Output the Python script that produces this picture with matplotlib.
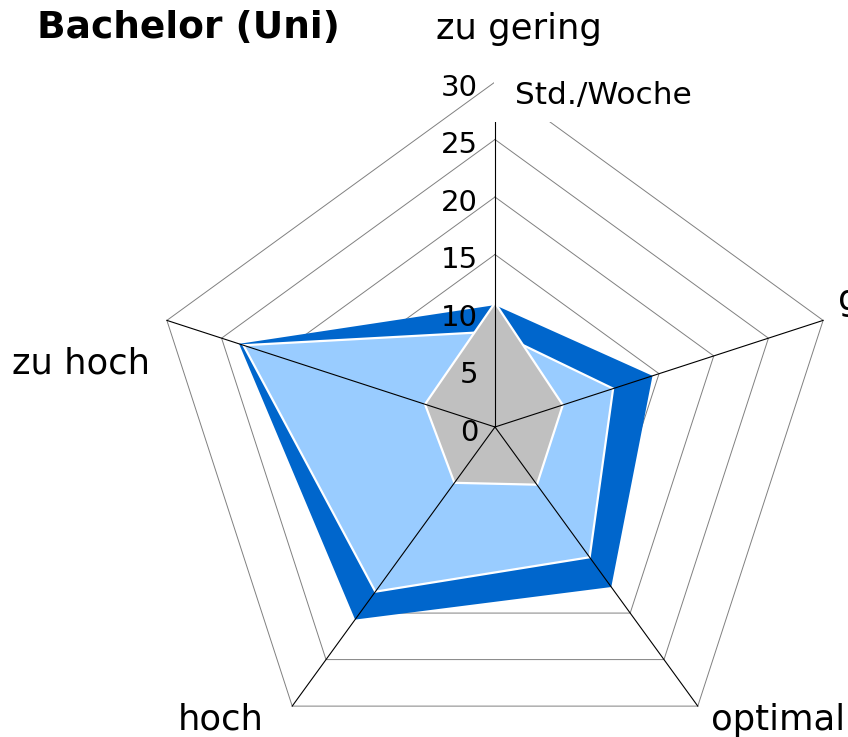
import numpy as np
import matplotlib.pyplot as plt
from matplotlib.patches import Polygon, Rectangle

# Achsen (im Uhrzeigersinn, oben beginnend)
categories = ["zu gering", "gering", "optimal", "hoch", "zu hoch"]
ticks = [0, 5, 10, 15, 20, 25, 30]

# Std./Woche je Kategorie
series_dark = [10.6, 14.4, 17.2, 20.7, 23.4]
series_light = [8.3, 10.8, 14.0, 17.7, 23.0]
series_gray = [10.8, 6.2, 6.2, 6.0, 6.4]

colors = ["#0066CC", "#99CCFF", "#C0C0C0"]

W, H = 848, 737
cx, cy, scale = 495, 427, 11.5   # Mittelpunkt in Pixeln, Pixel pro Einheit


def px(x, y):
    # Pixelkoordinaten (oben links) -> Datenkoordinaten
    return (x - cx) / scale, (cy - y) / scale


n = len(categories)
angles = np.deg2rad(90 - 72 * np.arange(n))


def xy(vals):
    vals = np.asarray(vals, dtype=float)
    return np.column_stack([vals * np.cos(angles), vals * np.sin(angles)])


fig = plt.figure(figsize=(W / 100, H / 100), dpi=100)
ax = fig.add_axes([0, 0, 1, 1])
ax.set_xlim(-cx / scale, (W - cx) / scale)
ax.set_ylim(-(H - cy) / scale, cy / scale)
ax.axis("off")

# Gitter
for t in ticks[1:]:
    pts = xy([t] * n)
    pts = np.vstack([pts, pts[:1]])
    ax.plot(pts[:, 0], pts[:, 1], color="#808080", lw=0.7, zorder=1)

# Flächen
ax.add_patch(Polygon(xy(series_dark), closed=True, facecolor=colors[0],
                     edgecolor="none", zorder=2))
ax.add_patch(Polygon(xy(series_light), closed=True, facecolor=colors[1],
                     edgecolor="white", lw=1.6, zorder=3))
ax.add_patch(Polygon(xy(series_gray), closed=True, facecolor=colors[2],
                     edgecolor="white", lw=1.6, zorder=4))

# Speichen
for p in xy([ticks[-1]] * n):
    ax.plot([0, p[0]], [0, p[1]], color="black", lw=0.8, zorder=5)

# Skalenbeschriftung
for t in ticks:
    ax.text(-17 / scale, t - 0.5, str(t), ha="right", va="center",
            fontsize=21, zorder=7)

# Einheit mit weissem Hintergrund (verdeckt die Spitze)
x0, y0 = px(494.3, 122)
x1, y1 = px(722, 60)
ax.add_patch(Rectangle((x0, y0), x1 - x0, y1 - y0, facecolor="white",
                       edgecolor="none", zorder=6))
ax.text(*px(515, 104), "Std./Woche", ha="left", va="baseline", fontsize=22.5,
        zorder=7)

# Kategorien
label_pos = [(436, 39), (838, 310), (711, 730), (178, 730), (12, 373)]
for name, (lx, ly) in zip(categories, label_pos):
    ax.text(*px(lx, ly), name, ha="left", va="baseline", fontsize=25.5,
            zorder=7)

fig.text(37 / W, 1 - 38 / H, "Bachelor (Uni)", fontsize=27, fontweight="bold",
         ha="left", va="baseline")

fig.savefig("out.png", dpi=100)
